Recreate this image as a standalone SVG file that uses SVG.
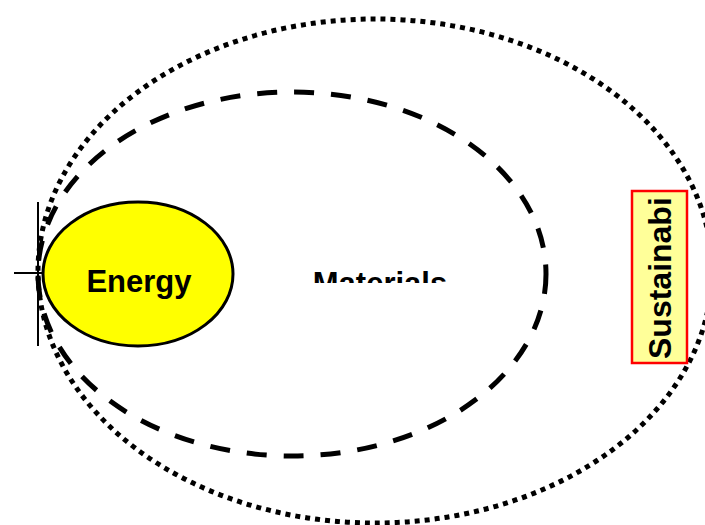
<svg xmlns="http://www.w3.org/2000/svg" width="705" height="525" viewBox="0 0 705 525">
<style>
.lbl{font-family:"Liberation Sans",Arial,sans-serif;font-weight:bold;fill:#000}
.ring{fill:none;stroke:#000}
</style>
<defs>
<clipPath id="matClip"><rect x="0" y="0" width="705" height="283"/></clipPath>
<clipPath id="susClip"><rect x="632" y="191" width="55" height="172"/></clipPath>
</defs>
<rect width="705" height="525" fill="#fff"/>
<g id="sustainability-ring">
<ellipse class="ring" cx="375" cy="271" rx="337" ry="252" stroke-width="5" stroke-dasharray="5 5"/>
</g>
<g id="materials">
<ellipse class="ring" cx="292" cy="274" rx="254" ry="182" stroke-width="5" stroke-dasharray="20 17"/>
<text class="lbl" x="380" y="294" font-size="31" text-anchor="middle" clip-path="url(#matClip)">Materials</text>
</g>
<g id="energy">
<ellipse cx="138" cy="274" rx="95" ry="72" fill="#ffff00" stroke="#000" stroke-width="3"/>
<text class="lbl" x="139" y="292" font-size="31" text-anchor="middle">Energy</text>
</g>
<g id="connectors">
<line x1="38" y1="202" x2="38" y2="346" stroke="#000" stroke-width="2"/>
<line x1="14" y1="273" x2="42" y2="273" stroke="#000" stroke-width="2"/>
</g>
<g id="sustainability">
<rect x="632" y="191" width="55" height="172" fill="#ffff99" stroke="#ff0000" stroke-width="2.5"/>
<g clip-path="url(#susClip)">
<text class="lbl" font-size="32" transform="translate(671,359) rotate(-90)">Sustainabi</text>
</g>
</g>
</svg>
